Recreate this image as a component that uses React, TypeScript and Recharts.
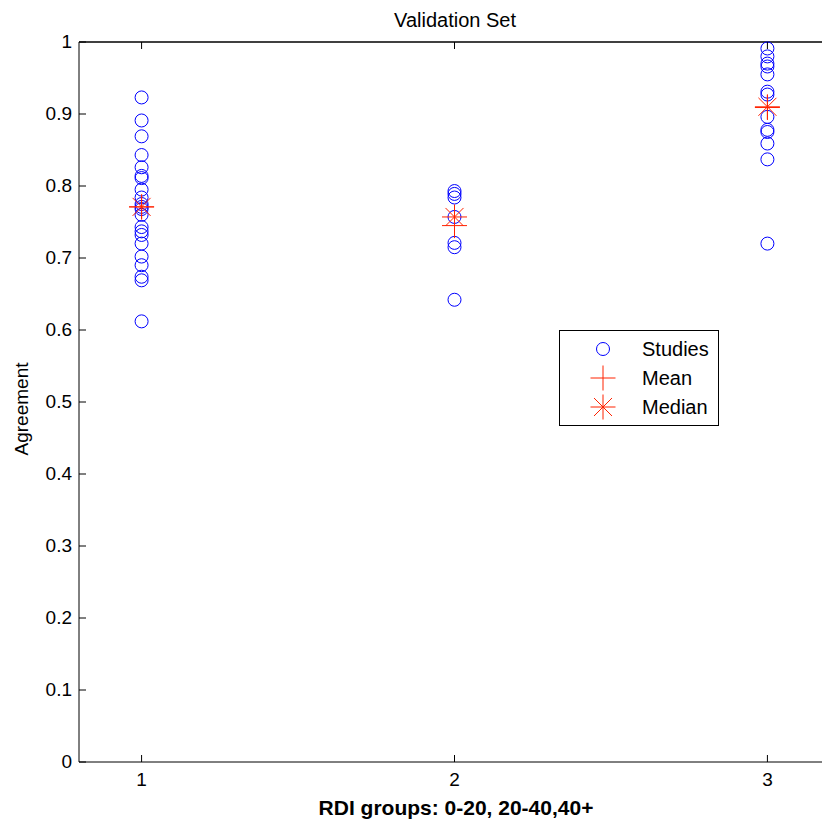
import { ScatterChart, Scatter, XAxis, YAxis, Legend } from "recharts";

// agreement per study
const groups = [1, 2, 3];
const group1 = [
  0.923, 0.891, 0.869, 0.843, 0.826, 0.814, 0.811, 0.795, 0.784, 0.775, 0.771,
  0.768, 0.76, 0.743, 0.737, 0.732, 0.72, 0.702, 0.69, 0.674, 0.669, 0.612,
];
const group2 = [0.793, 0.789, 0.784, 0.757, 0.721, 0.715, 0.642];
const group3 = [
  0.991, 0.98, 0.97, 0.966, 0.955, 0.931, 0.927, 0.896, 0.878, 0.875, 0.859,
  0.837, 0.72,
];
const means = [0.771, 0.745, 0.909];
const medians = [0.771, 0.757, 0.91];
const yTicks = [0, 0.1, 0.2, 0.3, 0.4, 0.5, 0.6, 0.7, 0.8, 0.9, 1];

const BLUE = "#0000ff";
const RED = "#ff2200";
const FONT = "'Liberation Sans', Arial, sans-serif";

const CHART_W = 860;
const CHART_H = 820;
const MARGIN = { top: 42, right: 30, bottom: 0, left: 0 };
const Y_AXIS_W = 79;
const X_AXIS_H = 58;
const PLOT_W = CHART_W - MARGIN.left - MARGIN.right - Y_AXIS_W;
const PLOT_H = CHART_H - MARGIN.top - MARGIN.bottom - X_AXIS_H;

const studies = [group1, group2, group3].flatMap((vals, i) =>
  vals.map((v) => ({ x: groups[i], y: v }))
);
const meanPts = groups.map((g, i) => ({ x: g, y: means[i] }));
const medianPts = groups.map((g, i) => ({ x: g, y: medians[i] }));

const Ring = ({ cx, cy }: any) => (
  <circle cx={cx} cy={cy} r={6.5} fill="none" stroke={BLUE} strokeWidth={1} />
);

const Plus = ({ cx, cy }: any) => (
  <g stroke={RED} strokeWidth={1}>
    <line x1={cx - 12.5} y1={cy} x2={cx + 12.5} y2={cy} />
    <line x1={cx} y1={cy - 12.5} x2={cx} y2={cy + 12.5} />
  </g>
);

const Star = ({ cx, cy }: any) => (
  <g stroke={RED} strokeWidth={1}>
    <line x1={cx - 12.5} y1={cy} x2={cx + 12.5} y2={cy} />
    <line x1={cx} y1={cy - 12.5} x2={cx} y2={cy + 12.5} />
    <line x1={cx - 9} y1={cy - 9} x2={cx + 9} y2={cy + 9} />
    <line x1={cx - 9} y1={cy + 9} x2={cx + 9} y2={cy - 9} />
  </g>
);

// bottom tick + the matching tick on the top edge of the box
const BottomTick = ({ x, y, payload }: any) => (
  <g>
    <line x1={x} y1={y} x2={x} y2={y - 7} stroke="#000" />
    <line x1={x} y1={y - PLOT_H} x2={x} y2={y - PLOT_H + 7} stroke="#000" />
    <text x={x} y={y + 24} textAnchor="middle" fontSize={19} fontFamily={FONT} fill="#000">
      {payload.value}
    </text>
  </g>
);

const LeftTick = ({ x, y, payload }: any) => (
  <g>
    <line x1={x} y1={y} x2={x + 7} y2={y} stroke="#000" />
    <text x={x - 7} y={y + 6} textAnchor="end" fontSize={19} fontFamily={FONT} fill="#000">
      {String(Number(payload.value.toFixed(1)))}
    </text>
  </g>
);

const legendRows = [
  { name: "Studies", Mark: Ring },
  { name: "Mean", Mark: Plus },
  { name: "Median", Mark: Star },
];

const LegendBox = () => (
  <svg width={160} height={96} style={{ display: "block" }}>
    <rect x={0.5} y={0.5} width={159} height={95} fill="#fff" stroke="#000" />
    {legendRows.map(({ name, Mark }, i) => (
      <g key={name}>
        <Mark cx={44} cy={19 + i * 29} />
        <text x={83} y={26 + i * 29} fontSize={20} fontFamily={FONT} fill="#000">
          {name}
        </text>
      </g>
    ))}
  </svg>
);

export default function App() {
  return (
    <div
      style={{
        position: "absolute",
        left: 0,
        top: 0,
        width: 822,
        height: 820,
        overflow: "hidden",
        background: "#fff",
      }}
    >
      <ScatterChart width={CHART_W} height={CHART_H} margin={MARGIN}>
        <XAxis
          type="number"
          dataKey="x"
          domain={[0.8, 3.2]}
          ticks={groups}
          allowDataOverflow
          height={X_AXIS_H}
          tickSize={0}
          tickMargin={0}
          tickLine={false}
          axisLine={{ stroke: "#000" }}
          tick={<BottomTick />}
        />
        <YAxis
          type="number"
          dataKey="y"
          domain={[0, 1]}
          ticks={yTicks}
          width={Y_AXIS_W}
          tickSize={0}
          tickMargin={0}
          tickLine={false}
          axisLine={{ stroke: "#000" }}
          tick={<LeftTick />}
        />
        <Scatter
          name="Studies"
          data={studies}
          shape={(p: any) => <Ring cx={p.cx} cy={p.cy} />}
          isAnimationActive={false}
        />
        <Scatter
          name="Mean"
          data={meanPts}
          shape={(p: any) => <Plus cx={p.cx} cy={p.cy} />}
          isAnimationActive={false}
        />
        <Scatter
          name="Median"
          data={medianPts}
          shape={(p: any) => <Star cx={p.cx} cy={p.cy} />}
          isAnimationActive={false}
        />
        <Legend
          layout="horizontal"
          verticalAlign="middle"
          align="center"
          wrapperStyle={{ left: 559, top: 330, width: 160, height: 96 }}
          content={() => <LegendBox />}
        />
        {/* top edge of the box */}
        <line
          x1={MARGIN.left + Y_AXIS_W}
          y1={MARGIN.top}
          x2={MARGIN.left + Y_AXIS_W + PLOT_W}
          y2={MARGIN.top}
          stroke="#000"
          strokeWidth={1.6}
        />
        <text x={455} y={27} textAnchor="middle" fontSize={20} fontFamily={FONT} fill="#000">
          Validation Set
        </text>
        <text
          x={456}
          y={815}
          textAnchor="middle"
          fontSize={21}
          fontWeight="bold"
          fontFamily={FONT}
          fill="#000"
        >
          RDI groups: 0-20, 20-40,40+
        </text>
        <text
          x={28}
          y={409}
          transform="rotate(-90 28 409)"
          textAnchor="middle"
          fontSize={19}
          fontFamily={FONT}
          fill="#000"
        >
          Agreement
        </text>
      </ScatterChart>
    </div>
  );
}
